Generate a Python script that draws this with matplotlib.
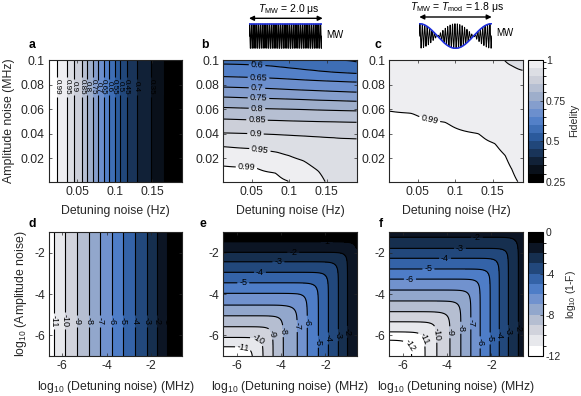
import numpy as np
import matplotlib
matplotlib.use("Agg")
import matplotlib.pyplot as plt
from matplotlib.colors import LinearSegmentedColormap, ListedColormap, BoundaryNorm
from matplotlib.patches import FancyArrowPatch

plt.rcParams["font.family"] = ["Liberation Sans", "DejaVu Sans"]
plt.rcParams["mathtext.fontset"] = "custom"
plt.rcParams["mathtext.rm"] = "Liberation Sans"
plt.rcParams["mathtext.it"] = "Liberation Sans:italic"
plt.rcParams["axes.unicode_minus"] = False
plt.rcParams["contour.negative_linestyle"] = "solid"
plt.rcParams["font.size"] = 8.8
TXT = "#262626"

# ---------------- data ----------------
# panel a: fidelity vs detuning only (contour positions along x)
a_x = [0.012, 0.0231, 0.0358, 0.0456, 0.0559, 0.0634, 0.0707, 0.0774, 0.0849,
       0.0926, 0.0997, 0.1065, 0.1155, 0.1290, 0.1487, 0.1656, 0.19]
a_F = [1.0, 0.99, 0.95, 0.9, 0.85, 0.8, 0.75, 0.7, 0.65,
       0.6, 0.55, 0.5, 0.45, 0.4, 0.35, 0.3, 0.265]

# panel b: profiles along y at a few detuning columns
b_cols_x = [0.012, 0.057, 0.085, 0.1, 0.12, 0.14, 0.16, 0.19]
b_cols_y = [
    [0.0, 0.0139, 0.0296, 0.0407, 0.052, 0.0614, 0.0699, 0.078, 0.0865, 0.0967, 0.103],
    [0.0, 0.0126, 0.0277, 0.0400, 0.0512, 0.0606, 0.0690, 0.0772, 0.0857, 0.0958, 0.103],
    [0.0, 0.0080, 0.0250, 0.0393, 0.0508, 0.0602, 0.0685, 0.0765, 0.0850, 0.0945, 0.103],
    [0.0015, 0.0222, 0.0388, 0.0505, 0.0600, 0.0682, 0.0760, 0.0845, 0.0935, 0.103],
    [0.0, 0.0180, 0.0382, 0.0502, 0.0597, 0.0678, 0.0755, 0.0838, 0.0922, 0.103],
    [0.0, 0.0095, 0.0375, 0.0499, 0.0593, 0.0673, 0.0750, 0.0832, 0.0910, 0.103],
    [0.0, 0.0368, 0.0497, 0.0590, 0.0670, 0.0745, 0.0827, 0.0900, 0.1000, 0.103],
    [0.0, 0.0360, 0.0493, 0.0586, 0.0664, 0.0738, 0.0820, 0.0890, 0.0980, 0.103],
]
b_cols_F = [
    [1.0, 0.99, 0.95, 0.9, 0.85, 0.8, 0.75, 0.7, 0.65, 0.6, 0.585],
    [0.999, 0.99, 0.95, 0.9, 0.85, 0.8, 0.75, 0.7, 0.65, 0.6, 0.583],
    [0.995, 0.99, 0.95, 0.9, 0.85, 0.8, 0.75, 0.7, 0.65, 0.6, 0.578],
    [0.99, 0.95, 0.9, 0.85, 0.8, 0.75, 0.7, 0.65, 0.6, 0.567],
    [0.98, 0.95, 0.9, 0.85, 0.8, 0.75, 0.7, 0.65, 0.6, 0.562],
    [0.962, 0.95, 0.9, 0.85, 0.8, 0.75, 0.7, 0.65, 0.6, 0.556],
    [0.935, 0.9, 0.85, 0.8, 0.75, 0.7, 0.65, 0.6, 0.55, 0.548],
    [0.912, 0.9, 0.85, 0.8, 0.75, 0.7, 0.65, 0.6, 0.55, 0.545],
]

# panel c
c_cols_x = [0.012, 0.044, 0.089, 0.134, 0.156, 0.17, 0.176, 0.19]
c_cols_y = [
    [0.0, 0.0586, 0.103],
    [0.0, 0.0567, 0.103],
    [0.0, 0.0493, 0.103],
    [0.0, 0.0400, 0.103],
    [0.0, 0.0319, 0.103],
    [0.0, 0.0222, 0.0965, 0.103],
    [0.0, 0.0112, 0.0955, 0.103],
    [0.0, 0.0912, 0.103],
]
c_cols_F = [
    [0.9995, 0.99, 0.975],
    [0.9995, 0.99, 0.972],
    [0.999, 0.99, 0.966],
    [0.998, 0.99, 0.957],
    [0.997, 0.99, 0.9515],
    [0.995, 0.99, 0.95, 0.947],
    [0.993, 0.99, 0.95, 0.945],
    [0.988, 0.95, 0.942],
]

# panel d: log10(1-F) vs log10 detuning
d_x = [-6.6, -6.36, -5.88, -5.33, -4.78, -4.30, -3.76, -3.25, -2.73, -2.20, -1.75, -1.30, -0.6]
d_L = [-11.5, -11, -10, -9, -8, -7, -6, -5, -4, -3, -2, -1, -0.1]

# panel e: profiles along detuning (x) and amplitude (y)
e_x = [-6.6, -4.81, -4.36, -3.90, -3.27, -2.82, -2.32, -1.87, -1.42, -1.01, -0.6]
e_Lx = [-13.9, -10, -9, -8, -7, -6, -5, -4, -3, -2, -1.1]
e_y = [-7.0, -6.55, -6.10, -5.58, -5.05, -4.53, -3.96, -3.45, -2.94, -2.43, -1.97, -1.46, -1.0]
e_Ly = [-11.9, -11, -10, -9, -8, -7, -6, -5, -4, -3, -2, -1, -0.1]

# panel f
f_x = [-6.6, -5.59, -4.99, -4.46, -3.87, -3.38, -2.93, -2.51, -2.06, -1.65, -1.24, -0.79, -0.6]
f_Lx = [-13.7, -12, -11, -10, -9, -8, -7, -6, -5, -4, -3, -2, -1.6]
f_y = [-7.0, -6.23, -5.83, -5.34, -4.85, -4.33, -3.80, -3.27, -2.78, -2.26, -1.78, -1.24, -1.0]
f_Ly = [-13.6, -12, -11, -10, -9, -8, -7, -6, -5, -4, -3, -2, -1.5]

fid_levels = [0.25, 0.3, 0.35, 0.4, 0.45, 0.5, 0.55, 0.6, 0.65, 0.7, 0.75, 0.8,
              0.85, 0.9, 0.95, 0.99, 1.0]
log_levels = list(range(-12, 1))

# contour label spots
a_lab = [(x, 0.078) for x in a_x[1:-1]]
b_lab = [(0.057, 0.0948), (0.059, 0.0856), (0.057, 0.0775), (0.059, 0.0697), (0.057, 0.0615),
         (0.057, 0.0513), (0.055, 0.0403), (0.0615, 0.0293), (0.043, 0.0133)]
c_lab = [(0.0667, 0.054)]
d_lab = [(x, -5.3) for x in d_x[1:-1]]
e_lab = [(-1.94, -1.53), (-3.45, -2.02), (-4.12, -2.5), (-4.95, -3.02), (-5.7, -3.52),
         (-5.02, -6.18), (-5.7, -6.55), (-4.35, -5.9), (-3.82, -5.79), (-3.3, -5.55),
         (-2.77, -5.34), (-2.39, -6.31), (-1.87, -6.15), (-1.42, -5.99), (-1.04, -5.83)]
f_lab = [(-2.66, -1.34), (-3.42, -1.89), (-4.09, -2.38), (-4.84, -2.88), (-5.67, -3.35),
         (-3.49, -5.63), (-3.04, -5.42), (-3.94, -5.85), (-4.54, -5.95), (-5.14, -6.18),
         (-5.67, -6.5), (-2.51, -6.34), (-2.06, -6.15), (-1.54, -5.99), (-1.09, -5.79),
         (-0.79, -5.63)]

# ---------------- helpers ----------------
def column_field(cols_x, cols_y, cols_v, xg, yg):
    prof = np.array([np.interp(yg, cy, cv) for cy, cv in zip(cols_y, cols_v)])
    return np.array([np.interp(xg, cols_x, prof[:, j]) for j in range(len(yg))])


def smooth_rows(Z, s):
    # light gaussian blur along x so the column joins do not show as kinks
    k = np.exp(-0.5 * (np.arange(-3 * s, 3 * s + 1) / s) ** 2)
    k /= k.sum()
    P = np.pad(Z, ((0, 0), (3 * s, 3 * s)), mode="edge")
    return np.array([np.convolve(r, k, mode="valid") for r in P])


def log_sum(xg, yg, px, pLx, py, pLy):
    gx = np.interp(xg, px, pLx)
    gy = np.interp(yg, py, pLy)
    return np.log10(10 ** gx[None, :] + 10 ** gy[:, None])


anchors = ["#000000", "#0f1a2c", "#1b3b64", "#2b5a9c", "#4a7bc6", "#7594cf",
           "#9eaecb", "#c6cad6", "#e2e3e7", "#ffffff"]
base = LinearSegmentedColormap.from_list("fid", anchors)
fid_cmap = ListedColormap(base(np.linspace(0, 1, len(fid_levels) - 1)))
fid_norm = BoundaryNorm(fid_levels, fid_cmap.N)
log_cmap = ListedColormap(base(np.linspace(1, 0, len(log_levels) - 1)))
log_norm = BoundaryNorm(log_levels, log_cmap.N)

fmt = lambda v: f"{v:g}"

# ---------------- figure ----------------
fig = plt.figure(figsize=(5.81, 3.96), dpi=100)
W, H = 581.0, 396.0


def box(x0, y0, x1, y1):
    return [x0 / W, 1 - y1 / H, (x1 - x0) / W, (y1 - y0) / H]


lefts = [49, 223.3, 389.3]
ax_top = [fig.add_axes(box(l, 60, l + 133.3, 181.7)) for l in lefts]
ax_bot = [fig.add_axes(box(l, 232.3, l + 133.3, 356)) for l in lefts]

xg = np.linspace(0.012, 0.19, 300)
yg = np.linspace(0.001, 0.1, 300)
Fa = np.tile(np.interp(xg, a_x, a_F), (len(yg), 1))
Fb = smooth_rows(column_field(b_cols_x, b_cols_y, b_cols_F, xg, yg), 8)
Fc = smooth_rows(column_field(c_cols_x, c_cols_y, c_cols_F, xg, yg), 8)

lx = np.linspace(-6.6, -0.6, 300)
ly = np.linspace(-7, -1, 300)
Ld = np.tile(np.interp(lx, d_x, d_L), (len(ly), 1))
Le = log_sum(lx, ly, e_x, e_Lx, e_y, e_Ly)
Lf = log_sum(lx, ly, f_x, f_Lx, f_y, f_Ly)


def style(ax):
    ax.tick_params(direction="in", length=2.5, width=0.5, top=True, right=True,
                   colors=TXT, labelsize=8.8, pad=3)
    for s in ax.spines.values():
        s.set_linewidth(0.8)
        s.set_color(TXT)


top_sets = [(Fa, a_lab, 5.8), (Fb, b_lab, 6.5), (Fc, c_lab, 6.5)]
for ax, (Z, labs, fs) in zip(ax_top, top_sets):
    Zc = np.clip(Z, 0.2501, 0.99999)
    cf_top = ax.contourf(xg, yg, Zc, levels=fid_levels, cmap=fid_cmap, norm=fid_norm)
    cs = ax.contour(xg, yg, Z, levels=fid_levels[1:-1], colors="k", linewidths=0.8)
    ax.clabel(cs, manual=labs, inline=True, fontsize=fs, fmt=fmt, inline_spacing=2)
    ax.set_xlim(0.012, 0.19)
    ax.set_ylim(0.001, 0.1)
    ax.set_xticks([0.05, 0.1, 0.15])
    ax.set_xticklabels(["0.05", "0.1", "0.15"])
    ax.set_yticks([0.02, 0.04, 0.06, 0.08, 0.1])
    ax.set_yticklabels(["0.02", "0.04", "0.06", "0.08", "0.1"])
    ax.set_xlabel("Detuning noise (Hz)", color=TXT, labelpad=5)
    style(ax)
ax_top[0].set_ylabel("Amplitude noise (MHz)", color=TXT, labelpad=4)

bot_sets = [(Ld, d_lab), (Le, e_lab), (Lf, f_lab)]
for ax, (Z, labs) in zip(ax_bot, bot_sets):
    Zc = np.clip(Z, -11.999, -0.001)
    cf_bot = ax.contourf(lx, ly, Zc, levels=log_levels, cmap=log_cmap, norm=log_norm)
    cs = ax.contour(lx, ly, Z, levels=log_levels[:-1], colors="k", linewidths=0.8)
    ax.clabel(cs, manual=labs, inline=True, fontsize=6.5, fmt=fmt, inline_spacing=2)
    ax.set_xlim(-6.6, -0.6)
    ax.set_ylim(-7, -1)
    ax.set_xticks([-6, -4, -2])
    ax.set_yticks([-6, -4, -2])
    ax.set_xlabel(r"log$_{10}$ (Detuning noise) (MHz)", color=TXT, labelpad=5)
    style(ax)
ax_bot[0].set_ylabel(r"log$_{10}$ (Amplitude noise)", color=TXT, labelpad=4)

# colorbars
cax1 = fig.add_axes(box(528, 60, 543, 181.7))
cb1 = fig.colorbar(cf_top, cax=cax1, spacing="proportional", ticks=[0.25, 0.5, 0.75, 1])
cb1.ax.set_yticklabels(["0.25", "0.5", "0.75", "1"])
cb1.set_label("Fidelity", color=TXT, labelpad=2, fontsize=7.5)
cax2 = fig.add_axes(box(528, 232.3, 543, 356))
cb2 = fig.colorbar(cf_bot, cax=cax2, spacing="proportional", ticks=[0, -4, -8, -12])
cb2.set_label(r"log$_{10}$ (1-F)", color=TXT, labelpad=2, fontsize=7.5)
for cb in (cb1, cb2):
    cb.ax.tick_params(direction="in", length=2, width=0.5, colors=TXT, labelsize=7.5, pad=2)
    cb.outline.set_linewidth(0.8)

# panel letters
for (x, y), s in zip([(32, 45), (205, 45), (378, 45), (32, 224), (203, 224), (381, 224)],
                     "abcdef"):
    fig.text(x / W, 1 - y / H, s, fontsize=8.8, weight="bold", ha="center", va="center")

# MW pulse sketches
t = np.linspace(0, 1, 3000)
in_b = fig.add_axes(box(249, 23, 322, 49.3))
in_b.plot(t, np.sin(2 * np.pi * 40 * t), color="k", lw=0.7)
in_b.plot([0, 1], [1, 1], color="#1f2fdc", lw=1.2)
in_c = fig.add_axes(box(419.3, 22.7, 491.7, 49.3))
env = np.cos(2 * np.pi * t)
in_c.plot(t, env * np.sin(2 * np.pi * 30 * t), color="k", lw=0.7)
in_c.plot(t, env, color="#1f2fdc", lw=1.2)
for a in (in_b, in_c):
    a.set_xlim(0, 1)
    a.set_ylim(-1.08, 1.08)
    a.axis("off")

for (x0, x1, y) in [(249, 322.7, 18.3), (419.3, 491.7, 17)]:
    fig.add_artist(FancyArrowPatch(
        (x0 / W, 1 - y / H), (x1 / W, 1 - y / H), transform=fig.transFigure,
        arrowstyle="<|-|>", mutation_scale=7, color="k", lw=1.0, shrinkA=0, shrinkB=0))
fig.text(289 / W, 1 - 9.5 / H, r"$T_{\rm MW}$ = 2.0 μs", fontsize=7.5, ha="center", va="center")
fig.text(457.5 / W, 1 - 6.5 / H, r"$T_{\rm MW}$ = $T_{\rm mod}$ = 1.8 μs", fontsize=7.5,
         ha="center", va="center")
fig.text(335 / W, 1 - 35 / H, "MW", fontsize=7, ha="center", va="center")
fig.text(505 / W, 1 - 33 / H, "MW", fontsize=7, ha="center", va="center")

fig.savefig("out.png", dpi=100)
